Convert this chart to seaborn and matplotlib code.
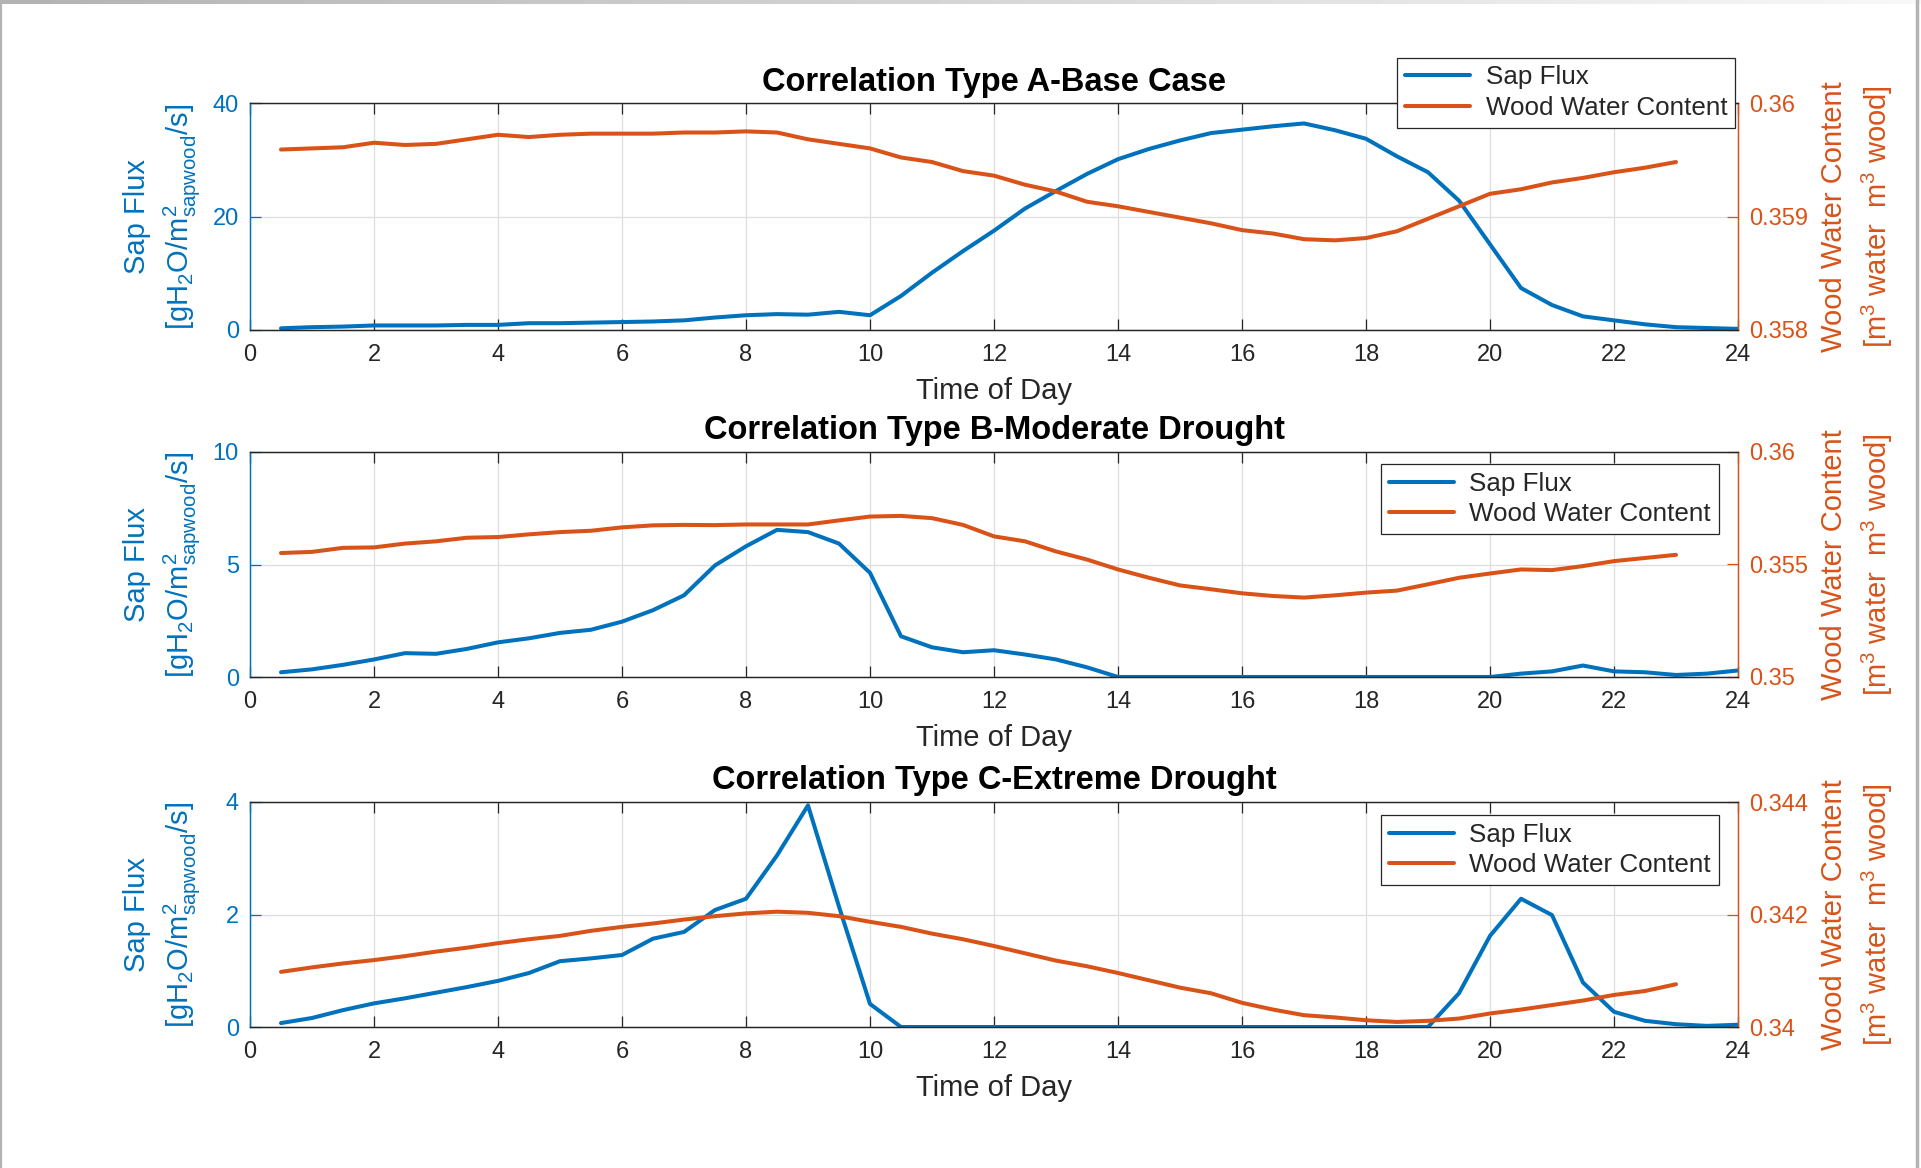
import matplotlib
matplotlib.use("Agg")
import numpy as np
import pandas as pd
import seaborn as sns
import matplotlib.pyplot as plt

# ---------------- data ----------------
t_sap = np.arange(0.5, 24.01, 0.5)   # sap flux sample times (h)
t_wwc = np.arange(0.5, 23.01, 0.5)   # wood water content sample times (h)

sap_A = [0.3, 0.5, 0.6, 0.8, 0.8, 0.8, 0.9, 0.9, 1.2, 1.2,
         1.3, 1.4, 1.5, 1.7, 2.2, 2.6, 2.8, 2.7, 3.2, 2.6,
         6.0, 10.1, 13.9, 17.5, 21.4, 24.5, 27.5, 30.1, 31.9, 33.4,
         34.7, 35.3, 35.9, 36.4, 35.2, 33.7, 30.6, 27.8, 22.8, 15.1,
         7.4, 4.4, 2.4, 1.7, 1.0, 0.5, 0.35, 0.2]
wwc_A = [0.35959, 0.35960, 0.35961, 0.35965, 0.35963, 0.35964, 0.35968, 0.35972, 0.35970, 0.35972,
         0.35973, 0.35973, 0.35973, 0.35974, 0.35974, 0.35975, 0.35974, 0.35968, 0.35964, 0.35960,
         0.35952, 0.35948, 0.35940, 0.35936, 0.35928, 0.35922, 0.35913, 0.35909, 0.35904, 0.35899,
         0.35894, 0.35888, 0.35885, 0.35880, 0.35879, 0.35881, 0.35887, 0.35898, 0.35909, 0.35920,
         0.35924, 0.35930, 0.35934, 0.35939, 0.35943, 0.35948]

sap_B = [0.21, 0.34, 0.54, 0.78, 1.06, 1.03, 1.25, 1.54, 1.72, 1.96,
         2.10, 2.46, 2.97, 3.63, 4.96, 5.81, 6.54, 6.44, 5.93, 4.63,
         1.81, 1.32, 1.10, 1.19, 1.00, 0.78, 0.43, 0.0, 0.0, 0.0,
         0.0, 0.0, 0.0, 0.0, 0.0, 0.0, 0.0, 0.0, 0.0, 0.0,
         0.15, 0.25, 0.51, 0.25, 0.21, 0.09, 0.15, 0.29]
wwc_B = [0.35551, 0.35556, 0.35574, 0.35576, 0.35593, 0.35603, 0.35619, 0.35622, 0.35634, 0.35644,
         0.35650, 0.35665, 0.35674, 0.35676, 0.35675, 0.35678, 0.35678, 0.35678, 0.35696, 0.35713,
         0.35716, 0.35706, 0.35676, 0.35625, 0.35603, 0.35558, 0.35522, 0.35478, 0.35441, 0.35407,
         0.35390, 0.35372, 0.35360, 0.35353, 0.35363, 0.35375, 0.35384, 0.35412, 0.35441, 0.35460,
         0.35478, 0.35475, 0.35493, 0.35515, 0.35529, 0.35543]

sap_C = [0.07, 0.16, 0.30, 0.42, 0.51, 0.61, 0.71, 0.82, 0.96, 1.17,
         1.22, 1.28, 1.57, 1.69, 2.08, 2.28, 3.05, 3.94, 2.14, 0.41,
         0.0, 0.0, 0.0, 0.0, 0.0, 0.0, 0.0, 0.0, 0.0, 0.0,
         0.0, 0.0, 0.0, 0.0, 0.0, 0.0, 0.0, 0.0, 0.60, 1.62,
         2.28, 1.99, 0.79, 0.27, 0.11, 0.05, 0.02, 0.04]
wwc_C = [0.34098, 0.34106, 0.34113, 0.34119, 0.34126, 0.34134, 0.34141, 0.34149, 0.34156, 0.34162,
         0.34171, 0.34178, 0.34184, 0.34191, 0.34197, 0.34202, 0.34205, 0.34203, 0.34197, 0.34187,
         0.34178, 0.34166, 0.34156, 0.34144, 0.34131, 0.34118, 0.34108, 0.34096, 0.34083, 0.34070,
         0.34060, 0.34043, 0.34031, 0.34021, 0.34017, 0.34012, 0.34009, 0.34011, 0.34015, 0.34024,
         0.34031, 0.34039, 0.34047, 0.34057, 0.34064, 0.34076]

titles = ["Correlation Type A-Base Case",
          "Correlation Type B-Moderate Drought",
          "Correlation Type C-Extreme Drought"]
left_ticks = [[0, 20, 40], [0, 5, 10], [0, 2, 4]]
right_ticks = [[0.358, 0.359, 0.36], [0.35, 0.355, 0.36], [0.34, 0.342, 0.344]]
x_ticks = list(range(0, 25, 2))
legend_labels = ["Sap Flux", "Wood Water Content"]
xlabel = "Time of Day"
ylabel_left = "Sap Flux\n[gH$_2$O/m$^2_{\\mathrm{sapwood}}$/s]"
ylabel_right = "Wood Water Content\n[m$^3$ water  m$^3$ wood]"

# ---------------- style ----------------
sns.set_style("white")
plt.rcParams["font.family"] = ["Liberation Sans", "DejaVu Sans"]
plt.rcParams["mathtext.fontset"] = "custom"
plt.rcParams["mathtext.rm"] = "Liberation Sans"
plt.rcParams["mathtext.it"] = "Liberation Sans:italic"
plt.rcParams["mathtext.bf"] = "Liberation Sans:bold"

BLUE = "#0072BD"
ORANGE = "#D95319"
DARK = "#262626"
TICK_FS = 17

fig = plt.figure(figsize=(19.21, 11.68), dpi=100)

L, W = 250 / 1921, 1488 / 1921
positions = [
    [L, 1 - 330 / 1168, W, 227 / 1168],
    [L, 1 - 677 / 1168, W, 225 / 1168],
    [L, 1 - 1027 / 1168, W, 225 / 1168],
]
legend_anchor = [(0.998, 1.20), (0.987, 0.947), (0.987, 0.942)]

saps = [sap_A, sap_B, sap_C]
wwcs = [wwc_A, wwc_B, wwc_C]

for i in range(3):
    ax = fig.add_axes(positions[i])
    ax2 = ax.twinx()
    df_s = pd.DataFrame({"t": t_sap, "v": saps[i]})
    df_w = pd.DataFrame({"t": t_wwc, "v": wwcs[i]})
    sns.lineplot(data=df_s, x="t", y="v", ax=ax, color=BLUE, lw=2.9, legend=False)
    sns.lineplot(data=df_w, x="t", y="v", ax=ax2, color=ORANGE, lw=2.9, legend=False)

    ax.set_xlim(0, 24)
    lt, rt = left_ticks[i], right_ticks[i]
    ax.set_ylim(lt[0], lt[-1])
    ax2.set_ylim(rt[0], rt[-1])
    ax.set_xticks(x_ticks)
    ax.set_xticklabels([str(v) for v in x_ticks])
    ax.set_yticks(lt)
    ax.set_yticklabels([f"{v:g}" for v in lt])
    ax2.set_yticks(rt)
    ax2.set_yticklabels([f"{v:g}" for v in rt])

    ax.grid(True, color="#dedede", lw=0.9)
    ax.set_axisbelow(True)

    ax.tick_params(axis="x", direction="in", top=True, bottom=True, length=8,
                   width=0.9, color=DARK, labelcolor=DARK, labelsize=TICK_FS, pad=10)
    ax.tick_params(axis="y", direction="in", left=True, right=False, length=8,
                   width=0.9, color=BLUE, labelcolor=BLUE, labelsize=TICK_FS, pad=8)
    ax2.tick_params(axis="y", direction="in", right=True, left=False, length=8,
                    width=0.9, color=ORANGE, labelcolor=ORANGE, labelsize=TICK_FS, pad=8)

    for a in (ax, ax2):
        a.spines["top"].set_color(DARK)
        a.spines["bottom"].set_color(DARK)
        a.spines["left"].set_color(BLUE)
        a.spines["right"].set_color(ORANGE)
        for s in a.spines.values():
            s.set_linewidth(0.9)

    ax.set_xlabel(xlabel, fontsize=21, color=DARK, labelpad=8)
    ax.set_ylabel(ylabel_left, fontsize=21, color=BLUE, multialignment="center",
                  linespacing=1.4)
    ax.yaxis.set_label_coords(-0.032, 0.5)
    ax2.set_ylabel(ylabel_right, fontsize=21, color=ORANGE, multialignment="center",
                   linespacing=1.45)
    ax2.yaxis.set_label_coords(1.055, 0.5)
    ax2.set_xlabel("")

    ax.set_title(titles[i], fontsize=23.5, fontweight="bold", color="black", pad=9)

    h1 = ax.lines[0]
    h2 = ax2.lines[0]
    leg = ax2.legend([h1, h2], legend_labels, loc="upper right",
                     bbox_to_anchor=legend_anchor[i], fontsize=18.7, frameon=True,
                     fancybox=False, edgecolor=DARK, framealpha=1,
                     handlelength=2.5, borderaxespad=0, borderpad=0.3,
                     labelspacing=0.25, handletextpad=0.6)
    leg.get_frame().set_linewidth(0.9)

# ---------------- screenshot frame ----------------
bg = fig.add_axes([0, 0, 1, 1], zorder=20)
bg.set_xlim(0, 1)
bg.set_ylim(0, 1)
bg.axis("off")
grad = np.linspace(0.70, 0.97, 256)[None, :]
bg.imshow(grad, extent=[0, 1, 1 - 4 / 1168, 1], aspect="auto", cmap="gray",
          vmin=0, vmax=1, interpolation="bilinear")
bg.axvline(1 / 1921, color="#b4b4b4", lw=1.6)
bg.axvline(1917 / 1921, color="#b4b4b4", lw=2.5)
bg.set_xlim(0, 1)
bg.set_ylim(0, 1)

fig.savefig("out.png", dpi=100)
